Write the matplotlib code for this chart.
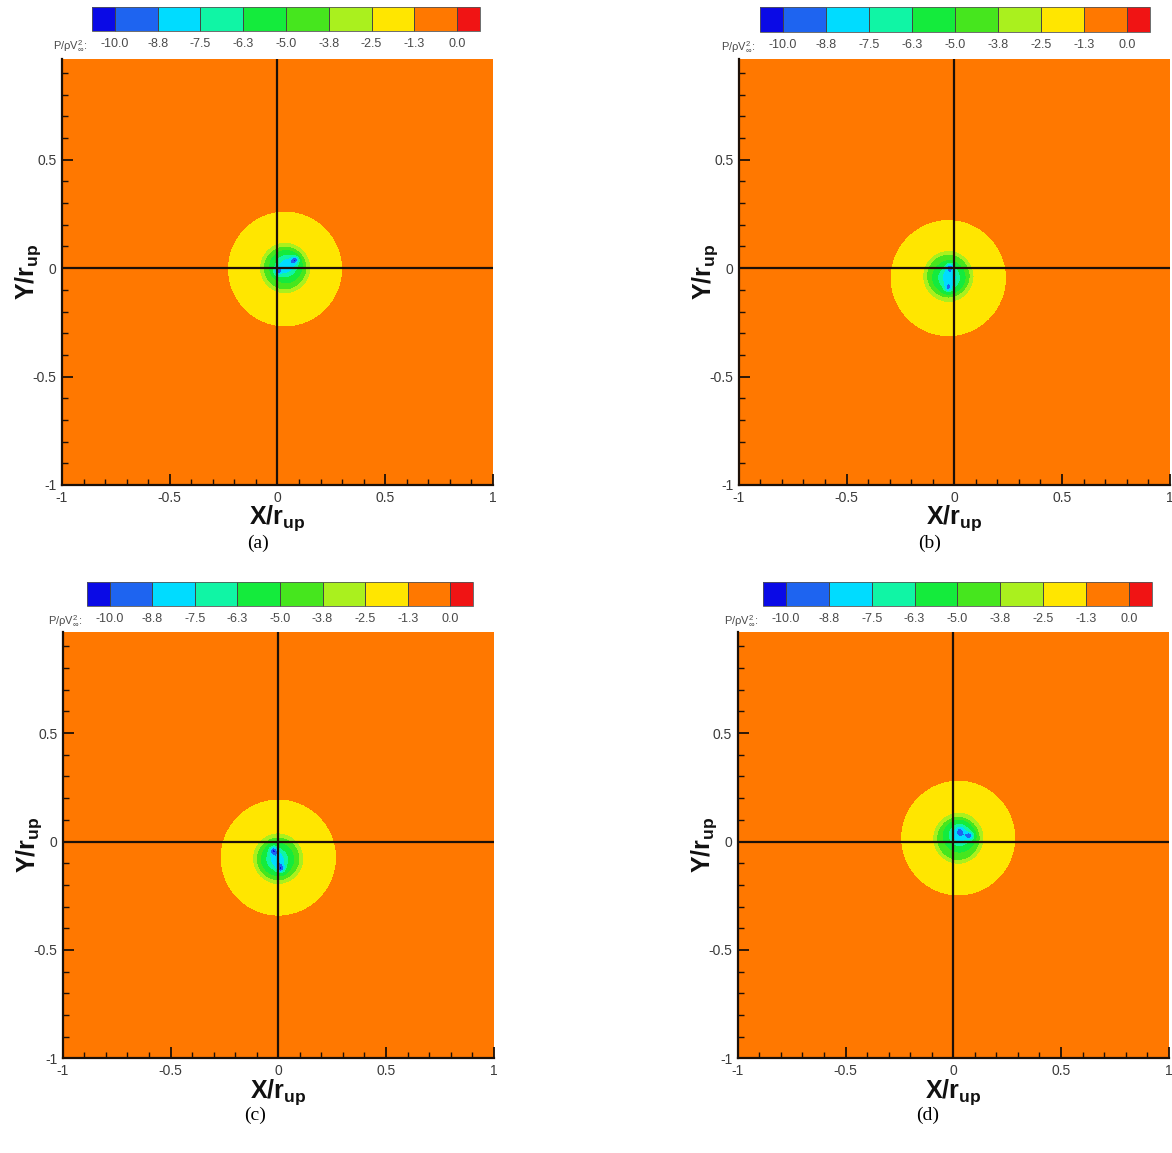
import numpy as np
import matplotlib
matplotlib.use("Agg")
import matplotlib.pyplot as plt
from matplotlib.colors import ListedColormap, BoundaryNorm
from matplotlib.ticker import MultipleLocator

# ---------------- data ----------------
level_bounds = [-10.0, -8.75, -7.5, -6.25, -5.0, -3.75, -2.5, -1.25, 0.0]
band_colors = ['#0a0ae6', '#1e64f0', '#00dcff', '#10f5a5', '#14eb3c',
               '#46e61e', '#aaf01e', '#ffe600', '#ff7800', '#f01414']
cbar_tick_labels = ['-10.0', '-8.8', '-7.5', '-6.3', '-5.0', '-3.8', '-2.5', '-1.3', '0.0']
panel_labels = ['(a)', '(b)', '(c)', '(d)']
x_ticks = [-1, -0.5, 0, 0.5, 1]
x_tick_labels = ['-1', '-0.5', '0', '0.5', '1']
y_ticks = [-1, -0.5, 0, 0.5]
y_tick_labels = ['-1', '-0.5', '0', '0.5']

# vortex pressure field parameters per panel (a..d)
broad_x = [0.035, -0.028, 0.000, 0.023]
broad_y = [-0.004, -0.046, -0.074, 0.016]
broad_amp = [2.7, 2.7, 2.7, 2.7]
broad_radius = [0.3042, 0.3077, 0.3077, 0.3042]
step_x = [0.035, -0.028, 0.000, 0.023]
step_y = [0.000, -0.035, -0.080, 0.012]
step_amp = [2.0, 2.0, 2.0, 2.0]
step_radius = [0.103, 0.103, 0.103, 0.103]
step_width = [0.006, 0.006, 0.006, 0.006]
inner_x = [0.041, -0.024, -0.005, 0.030]
inner_y = [0.011, -0.044, -0.083, 0.030]
inner_amp = [4.0, 4.0, 4.0, 4.0]
inner_radius = [0.056, 0.056, 0.056, 0.056]
spot_a_x = [0.082, -0.020, -0.023, 0.031]
spot_a_y = [0.038, 0.005, -0.040, 0.054]
spot_a_amp = [3.6, 3.6, 3.7, 1.3]
spot_b_x = [0.000, -0.028, 0.012, 0.078]
spot_b_y = [-0.016, -0.093, -0.125, 0.026]
spot_b_amp = [3.1, 2.8, 3.7, 3.3]
spot_radius = [0.02, 0.02, 0.02, 0.02]

x_range = (-1.0, 1.0)
y_range = (-1.0, 0.965)

# ---------------- layout ----------------
W, H = 1172, 1153
fig = plt.figure(figsize=(W / 100, H / 100), dpi=100)
plt.rcParams['font.family'] = ['Liberation Sans', 'DejaVu Sans']
plt.rcParams['mathtext.fontset'] = 'custom'
plt.rcParams['mathtext.rm'] = 'Liberation Sans'
plt.rcParams['mathtext.bf'] = 'Liberation Sans:bold'
plt.rcParams['mathtext.it'] = 'Liberation Sans:italic'

axes_pos = [(0.0529, 0.5794, 0.3677, 0.3695),
            (0.6304, 0.5794, 0.3677, 0.3695),
            (0.0536, 0.0821, 0.3677, 0.3695),
            (0.6295, 0.0821, 0.3677, 0.3695)]
cbar_pos = [(0.0785, 0.9731, 0.3311, 0.0205),
            (0.6485, 0.9725, 0.3328, 0.0210),
            (0.0742, 0.4744, 0.3294, 0.0208),
            (0.6510, 0.4744, 0.3319, 0.0208)]
caption_pos = [(0.2201, 0.5290), (0.7935, 0.5290), (0.2176, 0.0330), (0.7918, 0.0330)]

xs = np.linspace(x_range[0], x_range[1], 801)
ys = np.linspace(y_range[0], y_range[1], 801)
X, Y = np.meshgrid(xs, ys)


def gauss(cx, cy, amp, rad):
    return amp * np.exp(-((X - cx) ** 2 + (Y - cy) ** 2) / rad ** 2)


dark = '#1c1008'
for i in range(4):
    r_step = np.hypot(X - step_x[i], Y - step_y[i])
    P = -(gauss(broad_x[i], broad_y[i], broad_amp[i], broad_radius[i])
          + step_amp[i] / (1.0 + np.exp((r_step - step_radius[i]) / step_width[i]))
          + gauss(inner_x[i], inner_y[i], inner_amp[i], inner_radius[i])
          + gauss(spot_a_x[i], spot_a_y[i], spot_a_amp[i], spot_radius[i])
          + gauss(spot_b_x[i], spot_b_y[i], spot_b_amp[i], spot_radius[i]))

    cmap = ListedColormap(band_colors[1:-1])
    cmap.set_under(band_colors[0])
    cmap.set_over(band_colors[-1])
    norm = BoundaryNorm(level_bounds, cmap.N)

    ax = fig.add_axes(axes_pos[i])
    cs = ax.contourf(X, Y, P, levels=level_bounds, cmap=cmap, norm=norm, extend='both')
    ax.set_xlim(*x_range)
    ax.set_ylim(*y_range)
    ax.axhline(0, color=dark, lw=1.6)
    ax.axvline(0, color=dark, lw=1.6)

    ax.set_xticks(x_ticks)
    ax.set_xticklabels(x_tick_labels)
    ax.set_yticks(y_ticks)
    ax.set_yticklabels(y_tick_labels)
    ax.xaxis.set_minor_locator(MultipleLocator(0.1))
    ax.yaxis.set_minor_locator(MultipleLocator(0.1))
    ax.tick_params(which='major', direction='in', length=8, width=1.3, color=dark,
                   labelsize=10, labelcolor='#3a3a3a', pad=4)
    ax.tick_params(which='minor', direction='in', length=4, width=1.0, color=dark)
    ax.tick_params(top=False, right=False, which='both')
    for s in ['top', 'right']:
        ax.spines[s].set_visible(False)
    for s in ['left', 'bottom']:
        ax.spines[s].set_linewidth(1.6)
        ax.spines[s].set_color(dark)

    ax.text(0.5, -0.079, r'$\mathbf{X/r_{up}}$', transform=ax.transAxes,
            ha='center', va='center', fontsize=18, color='#111111')
    ax.text(-0.078, 0.5, r'$\mathbf{Y/r_{up}}$', transform=ax.transAxes, rotation=90,
            ha='center', va='center', fontsize=18, color='#111111')

    # colorbar
    cax = fig.add_axes(cbar_pos[i])
    cb = fig.colorbar(cs, cax=cax, orientation='horizontal', extend='both',
                      extendfrac=0.067, extendrect=True, drawedges=True)
    cb.set_ticks(level_bounds, labels=cbar_tick_labels)
    cb.ax.tick_params(length=0, labelsize=9, labelcolor='#4a4a4a', pad=5)
    cb.outline.set_linewidth(0.6)
    cb.outline.set_edgecolor('#555555')
    cb.dividers.set_color('#444444')
    cb.dividers.set_linewidth(0.7)
    bx, by, bw, bh = cbar_pos[i]
    fig.text(bx - 0.004, by - 0.0125, r'P/ρV$_{\infty}^{2}$:', ha='right', va='center',
             fontsize=8, color='#4a4a4a', family=['Liberation Sans', 'DejaVu Sans'])

    fig.text(caption_pos[i][0], caption_pos[i][1], panel_labels[i], ha='center', va='center',
             fontsize=14, family=['Liberation Serif', 'DejaVu Serif'])

fig.savefig('out.png', dpi=100)
